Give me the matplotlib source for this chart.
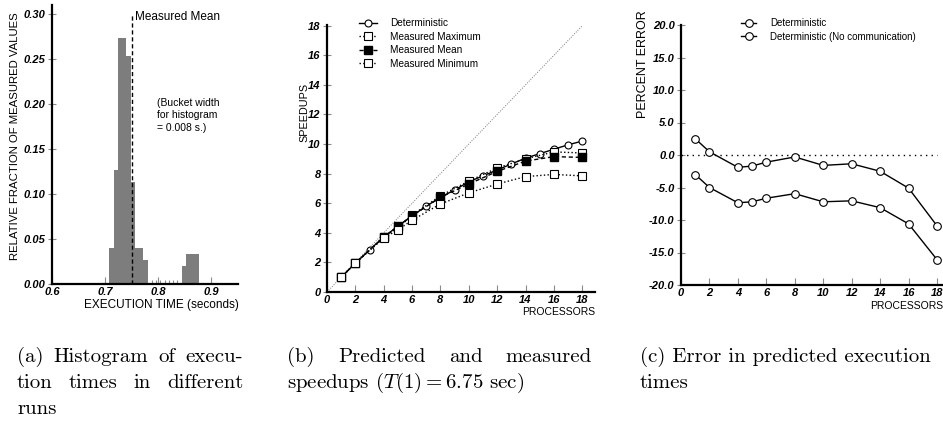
import numpy as np
import matplotlib
matplotlib.use("Agg")
import matplotlib.pyplot as plt
from matplotlib.ticker import FormatStrFormatter

plt.rcParams['font.family'] = ['Liberation Sans', 'DejaVu Sans']
plt.rcParams['mathtext.fontset'] = 'cm'
plt.rcParams['axes.unicode_minus'] = False

# (a) histogram of execution times, bucket width 0.008 s
bucket_edges = np.round(0.708 + 0.008 * np.arange(22), 3)
fractions = [0.040, 0.127, 0.273, 0.273, 0.253, 0.113, 0.040, 0.040, 0.027,
             0, 0, 0, 0, 0, 0, 0, 0,
             0.020, 0.033, 0.033, 0.033]
measured_mean = 0.751

# (b) speedups
procs_all = np.arange(1, 19)
speedup_det = [1.0, 1.95, 2.85, 3.72, 4.45, 5.15, 5.8, 6.4, 6.9, 7.45, 7.85, 8.25,
               8.65, 9.05, 9.35, 9.65, 9.95, 10.2]
procs_meas = [1, 2, 4, 5, 6, 8, 10, 12, 14, 16, 18]
speedup_max = [1.0, 1.95, 3.75, 4.3, 5.2, 6.5, 7.5, 8.38, 9.0, 9.47, 9.4]
speedup_mean = [1.0, 1.95, 3.7, 4.45, 5.15, 6.4, 7.3, 8.15, 8.85, 9.15, 9.1]
speedup_min = [1.0, 1.95, 3.65, 4.2, 4.85, 5.95, 6.7, 7.3, 7.8, 7.95, 7.85]

# (c) percent error
procs_err = [1, 2, 4, 5, 6, 8, 10, 12, 14, 16, 18]
err_det = [2.5, 0.5, -1.9, -1.7, -1.1, -0.3, -1.6, -1.35, -2.5, -5.1, -10.9]
err_nocomm = [-3.0, -5.0, -7.35, -7.2, -6.65, -5.95, -7.2, -7.05, -8.1, -10.6, -16.1]

W, H = 943, 422
GRAY = '#8a8a8a'


def px_axes(fig, left, top, right, bottom):
    return fig.add_axes([left / W, 1 - bottom / H, (right - left) / W, (bottom - top) / H])


def style_axes(ax, xfmt, yfmt):
    for s in ['top', 'right']:
        ax.spines[s].set_visible(False)
    for s in ['left', 'bottom']:
        ax.spines[s].set_linewidth(1.6)
    ax.tick_params(axis='y', direction='inout', length=6, width=0.8, color=GRAY, pad=1.5, labelsize=8)
    ax.tick_params(axis='x', direction='in', length=5, width=0.8, color=GRAY, pad=2.5, labelsize=8)
    ax.xaxis.set_major_formatter(FormatStrFormatter(xfmt))
    ax.yaxis.set_major_formatter(FormatStrFormatter(yfmt))
    for lab in ax.get_xticklabels() + ax.get_yticklabels():
        lab.set_fontweight('bold')
        lab.set_fontstyle('italic')


fig = plt.figure(figsize=(W / 100, H / 100), dpi=100)

# ---- (a)
ax_a = px_axes(fig, 52, 5, 238, 284)
ax_a.bar(bucket_edges[:-1], fractions, width=0.008, align='edge', color='#7d7d7d', edgecolor='none')
empty = [bucket_edges[i] for i in range(1, len(fractions)) if fractions[i] == 0 and fractions[i - 1] == 0]
ax_a.vlines(empty, 0, 0.004, color=GRAY, lw=0.8)
ax_a.vlines(measured_mean, 0, 0.299, color='k', lw=1, linestyles=(0, (3, 2)))
ax_a.text(0.757, 0.297, 'Measured Mean', fontsize=8.5, va='center', ha='left')
ax_a.text(0.7985, 0.207, '(Bucket width\nfor histogram\n= 0.008 s.)', fontsize=7.5,
          va='top', ha='left', linespacing=1.35)
ax_a.set_xlim(0.6, 0.95)
ax_a.set_ylim(0, 0.31)
ax_a.set_xticks([0.6, 0.7, 0.8, 0.9])
ax_a.set_yticks(np.arange(0, 0.301, 0.05))
style_axes(ax_a, '%.1f', '%.2f')
ax_a.set_ylabel('RELATIVE FRACTION OF MEASURED VALUES', fontsize=8.2)
ax_a.yaxis.set_label_coords(-0.17, 0.53)
ax_a.set_xlabel('EXECUTION TIME (seconds)', fontsize=8.5, va='top')
ax_a.xaxis.set_label_coords(0.59, -0.055)

# ---- (b)
ax_b = px_axes(fig, 327, 25, 595, 292)
ax_b.plot([0, 18], [0, 18], color='#777777', lw=0.7, ls=(0, (1, 1.5)))
ax_b.plot(procs_all, speedup_det, '-o', color='k', lw=1, ms=5, mfc='white', mew=0.8, label='Deterministic')
ax_b.plot(procs_meas, speedup_max, ':s', color='k', lw=1, ms=5.5, mfc='white', mew=0.8, label='Measured Maximum')
ax_b.plot(procs_meas, speedup_mean, 's', color='k', ls=(0, (3, 2)), lw=1, ms=5.5, label='Measured Mean')
ax_b.plot(procs_meas, speedup_min, ':s', color='k', lw=1, ms=5.5, mfc='white', mew=0.8, label='Measured Minimum')
ax_b.set_xlim(0, 18.9)
ax_b.set_ylim(0, 18.05)
ax_b.set_xticks(range(0, 19, 2))
ax_b.set_yticks(range(0, 19, 2))
style_axes(ax_b, '%d', '%d')
ax_b.legend(loc='upper left', bbox_to_anchor=(0.12, 1.025), frameon=False, fontsize=7.2,
            handlelength=1.8, handletextpad=1.3, labelspacing=0.35, borderpad=0, borderaxespad=0)
ax_b.set_ylabel('SPEEDUPS', fontsize=7.8, va='center')
ax_b.yaxis.set_label_coords(-0.085, 0.674)
ax_b.set_xlabel('PROCESSORS', fontsize=7.5, ha='right', va='top')
ax_b.xaxis.set_label_coords(1.0, -0.055)

# ---- (c)
ax_c = px_axes(fig, 681, 25, 943, 285)
ax_c.plot([0, 18], [0, 0], color='k', lw=1, ls=(0, (1, 3)))
ax_c.plot(procs_err, err_det, '-o', color='k', lw=1, ms=5.5, mfc='white', mew=0.8, label='Deterministic')
ax_c.plot(procs_err, err_nocomm, '-o', color='k', lw=1, ms=5.5, mfc='white', mew=0.8,
          label='Deterministic (No communication)')
ax_c.set_xlim(0, 18.42)
ax_c.set_ylim(-20, 20)
ax_c.set_xticks(range(0, 19, 2))
ax_c.set_yticks(np.arange(-20, 20.1, 5))
style_axes(ax_c, '%d', '%.1f')
ax_c.legend(loc='upper left', bbox_to_anchor=(0.23, 1.025), frameon=False, fontsize=7,
            handlelength=1.5, handletextpad=1.5, labelspacing=0.35, borderpad=0, borderaxespad=0)
ax_c.set_ylabel('PERCENT ERROR', fontsize=9, va='bottom', ha='right')
ax_c.yaxis.set_label_coords(-0.122, 1.058)
ax_c.set_xlabel('PROCESSORS', fontsize=7.5, ha='right', va='top')
ax_c.xaxis.set_label_coords(1.0, -0.06)

# ---- captions
cap_kw = dict(fontfamily='cmr10', fontsize=15, va='center', ha='left')
renderer = fig.canvas.get_renderer()


def caption_line(text, x0, x1, y, justify=False):
    if not justify:
        fig.text(x0 / W, 1 - y / H, text, **cap_kw)
        return
    words = text.split(' ')
    arts = [fig.text(0, 0, w, **cap_kw) for w in words]
    widths = [a.get_window_extent(renderer).width for a in arts]
    gap = (x1 - x0 - sum(widths)) / (len(words) - 1)
    x = x0
    for a, w in zip(arts, widths):
        a.set_position((x / W, 1 - y / H))
        x += w + gap


caption_line('(a) Histogram of execu-', 17, 243, 357, True)
caption_line('tion times in different', 17, 243, 383, True)
caption_line('runs', 17, 243, 409)
caption_line('(b) Predicted and measured', 287, 592, 357, True)
caption_line('speedups ($T(1) = 6.75$ sec)', 287, 592, 383)
caption_line('(c) Error in predicted execution', 640, 930, 357)
caption_line('times', 640, 930, 383)

fig.savefig('out.png', dpi=100)
